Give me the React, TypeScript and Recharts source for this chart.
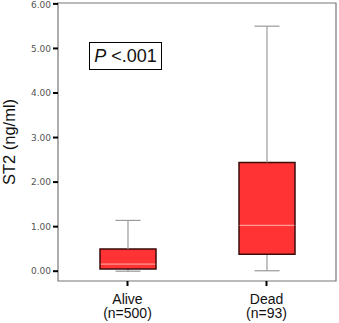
import React from 'react';
import { ComposedChart, Bar, XAxis, YAxis, ReferenceArea, Label } from 'recharts';

// Box plot summary (ng/ml)
const groups = ['Alive', 'Dead'];
const groupNs = ['(n=500)', '(n=93)'];
const mins = [0.0, 0.01];
const q1s = [0.05, 0.38];
const medians = [0.16, 1.03];
const q3s = [0.5, 2.44];
const maxs = [1.14, 5.5];
const yTicks = [0, 1, 2, 3, 4, 5, 6];
const yDomain: [number, number] = [-0.22, 6.02];

const data = groups.map((g, i) => ({
  name: g,
  n: groupNs[i],
  base: mins[i],
  lowWhisker: q1s[i] - mins[i],
  lowBox: medians[i] - q1s[i],
  highBox: q3s[i] - medians[i],
  highWhisker: maxs[i] - q3s[i],
}));

const BOX_FILL = '#ff3333';
const BOX_EDGE = '#3d0c0c';
const WHISKER = '#9a9a9a';
const CAP = 25;

const Empty = () => <g />;

const LowWhisker = (p: any) => {
  const cx = p.x + p.width / 2;
  const bottom = p.y + p.height;
  return (
    <g>
      <line x1={cx} x2={cx} y1={p.y} y2={bottom} stroke={WHISKER} strokeWidth={1.2} />
      <line x1={cx - CAP / 2} x2={cx + CAP / 2} y1={bottom} y2={bottom} stroke={WHISKER} strokeWidth={1.2} />
    </g>
  );
};

const HighWhisker = (p: any) => {
  const cx = p.x + p.width / 2;
  return (
    <g>
      <line x1={cx} x2={cx} y1={p.y} y2={p.y + p.height} stroke={WHISKER} strokeWidth={1.2} />
      <line x1={cx - CAP / 2} x2={cx + CAP / 2} y1={p.y} y2={p.y} stroke={WHISKER} strokeWidth={1.2} />
    </g>
  );
};

// lower half of the box: sides + bottom edge
const LowBox = (p: any) => {
  const { x, y, width, height } = p;
  return (
    <g>
      <rect x={x} y={y} width={width} height={height} fill={BOX_FILL} />
      <path d={`M${x},${y} L${x},${y + height} L${x + width},${y + height} L${x + width},${y}`} fill="none" stroke={BOX_EDGE} strokeWidth={1.5} />
    </g>
  );
};

// upper half: sides + top edge, median line at its bottom
const HighBox = (p: any) => {
  const { x, y, width, height } = p;
  const b = y + height;
  return (
    <g>
      <rect x={x} y={y} width={width} height={height} fill={BOX_FILL} />
      <path d={`M${x},${b} L${x},${y} L${x + width},${y} L${x + width},${b}`} fill="none" stroke={BOX_EDGE} strokeWidth={1.5} />
      <line x1={x + 0.8} x2={x + width - 0.8} y1={b} y2={b} stroke="#ffb0a8" strokeWidth={1} />
    </g>
  );
};

const GroupTick = (p: any) => {
  const { x, y, payload, index } = p;
  return (
    <text x={x} y={y} textAnchor="middle" fontSize={14} fill="#111">
      <tspan x={x} dy={16}>{payload.value}</tspan>
      <tspan x={x} dy={14}>{groupNs[index]}</tspan>
    </text>
  );
};

export default function App() {
  return (
    <div style={{ position: 'fixed', left: 0, top: 0, width: 339, height: 323, background: '#fff', fontFamily: '"Liberation Sans", Arial, sans-serif' }}>
      <ComposedChart width={339} height={323} data={data} margin={{ top: 3, right: 3, bottom: 2, left: 0 }}>
        <ReferenceArea y1={yDomain[0]} y2={yDomain[1]} fill="none" stroke="#777" strokeWidth={1.2} ifOverflow="extendDomain" />
        <XAxis
          dataKey="name"
          height={40}
          axisLine={false}
          tickSize={5}
          tickLine={{ stroke: '#000', strokeWidth: 2 }}
          tick={<GroupTick />}
          interval={0}
        />
        <YAxis
          type="number"
          domain={yDomain}
          ticks={yTicks}
          width={58}
          axisLine={false}
          tickSize={5}
          tickLine={{ stroke: '#000', strokeWidth: 2 }}
          tickFormatter={(v: number) => v.toFixed(2)}
          tick={{ fontSize: 9, fill: '#555', fontFamily: '"DejaVu Sans", sans-serif' }}
          allowDataOverflow
        >
          <Label
            content={() => (
              <text transform="translate(15,142) rotate(-90)" textAnchor="middle" fontSize={16.5} fill="#111">
                ST2 (ng/ml)
              </text>
            )}
          />
        </YAxis>
        <Bar dataKey="base" stackId="box" barSize={56} shape={<Empty />} isAnimationActive={false} />
        <Bar dataKey="lowWhisker" stackId="box" barSize={56} shape={<LowWhisker />} isAnimationActive={false} />
        <Bar dataKey="lowBox" stackId="box" barSize={56} shape={<LowBox />} isAnimationActive={false} />
        <Bar dataKey="highBox" stackId="box" barSize={56} shape={<HighBox />} isAnimationActive={false} />
        <Bar dataKey="highWhisker" stackId="box" barSize={56} shape={<HighWhisker />} isAnimationActive={false} />
      </ComposedChart>
      <div
        style={{
          position: 'absolute',
          left: 89,
          top: 42,
          width: 71,
          height: 26,
          border: '1.5px solid #000',
          fontSize: 18,
          lineHeight: '26px',
          textAlign: 'center',
          color: '#111',
        }}
      >
        <i>P</i> &lt;.001
      </div>
    </div>
  );
}
